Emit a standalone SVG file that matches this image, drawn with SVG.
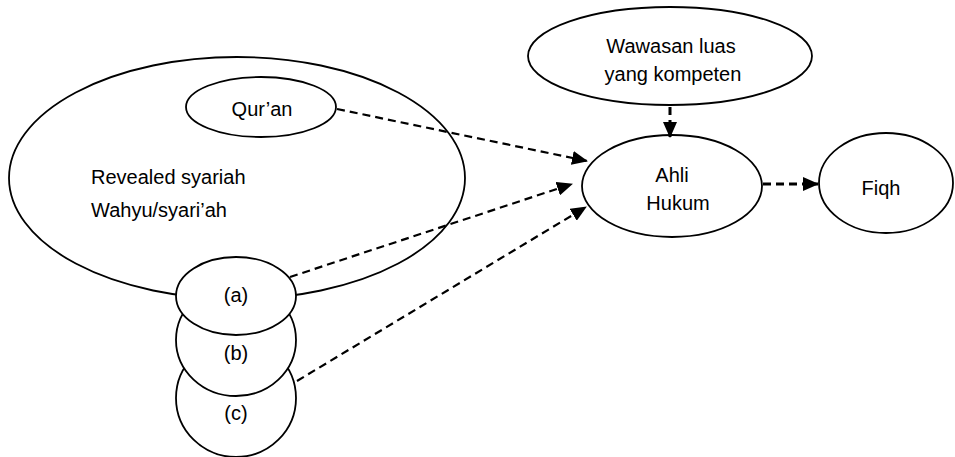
<svg xmlns="http://www.w3.org/2000/svg" width="955" height="457" viewBox="0 0 955 457">
  <style>
    .node { fill: #ffffff; stroke: #000000; stroke-width: 1.8; }
    .label { font-family: "Liberation Sans", Arial, sans-serif; font-size: 20px; fill: #000000; }
    .mid { text-anchor: middle; }
    .link { fill: none; stroke: #000000; stroke-width: 2.2; stroke-dasharray: 8 5; }
    .thick { stroke-width: 3; }
  </style>
  <defs>
    <marker id="arrow" markerUnits="userSpaceOnUse" markerWidth="16" markerHeight="14" viewBox="0 0 16 14" refX="15" refY="7" orient="auto">
      <path d="M0,0 L16,7 L0,14 Z" fill="#000000"/>
    </marker>
  </defs>

  <!-- revealed syariah container -->
  <g id="revealed">
    <ellipse class="node" cx="237" cy="178" rx="228" ry="121"/>
    <text class="label" x="91" y="184">Revealed syariah</text>
    <text class="label" x="91" y="217">Wahyu/syari’ah</text>
  </g>

  <g id="quran">
    <ellipse class="node" cx="261" cy="107" rx="75" ry="30"/>
    <text class="label mid" x="262" y="116">Qur’an</text>
  </g>

  <g id="wawasan">
    <ellipse class="node" cx="670" cy="56" rx="142" ry="49"/>
    <text class="label mid" x="671" y="53">Wawasan luas</text>
    <text class="label mid" x="673" y="81">yang kompeten</text>
  </g>

  <g id="ahli-hukum">
    <ellipse class="node" cx="672" cy="186" rx="90" ry="51"/>
    <text class="label mid" x="672" y="182">Ahli</text>
    <text class="label mid" x="678" y="210">Hukum</text>
  </g>

  <g id="fiqh">
    <ellipse class="node" cx="886" cy="183" rx="67" ry="50"/>
    <text class="label mid" x="881" y="195">Fiqh</text>
  </g>

  <!-- stacked sources (c) under (b) under (a) -->
  <g id="source-c">
    <ellipse class="node" cx="236" cy="398" rx="60" ry="59"/>
    <text class="label mid" x="236" y="420">(c)</text>
  </g>
  <g id="source-b">
    <ellipse class="node" cx="236" cy="340" rx="60" ry="56"/>
    <text class="label mid" x="236" y="360">(b)</text>
  </g>
  <g id="source-a">
    <ellipse class="node" cx="236" cy="296" rx="60" ry="39"/>
    <text class="label mid" x="236" y="302">(a)</text>
  </g>

  <g id="connectors">
    <line class="link" x1="337" y1="109" x2="587" y2="161" marker-end="url(#arrow)"/>
    <line class="link" x1="290" y1="277" x2="572" y2="184" marker-end="url(#arrow)"/>
    <line class="link" x1="297" y1="381" x2="586" y2="207" marker-end="url(#arrow)"/>
    <line class="link thick" x1="670" y1="107" x2="670" y2="137" marker-end="url(#arrow)"/>
    <line class="link thick" x1="763" y1="184" x2="818" y2="184" marker-end="url(#arrow)"/>
  </g>
</svg>
